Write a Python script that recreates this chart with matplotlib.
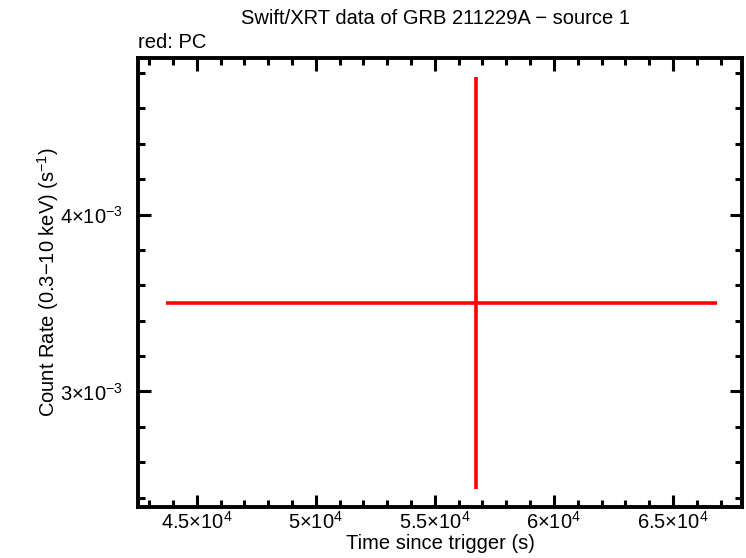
import numpy as np
import matplotlib
matplotlib.use("Agg")
import matplotlib.pyplot as plt
from matplotlib.ticker import FixedLocator, MultipleLocator

plt.rcParams['font.family'] = ['Liberation Sans', 'DejaVu Sans']
plt.rcParams['mathtext.fontset'] = 'custom'
plt.rcParams['mathtext.rm'] = 'Liberation Sans'
plt.rcParams['mathtext.it'] = 'Liberation Sans'
plt.rcParams['mathtext.default'] = 'regular'

# PC data point (time in s, count rate in 1/s)
t_mid = [56730.0]
t_lo = [43700.0]
t_hi = [66860.0]
rate = [3.5e-3]
rate_lo = [2.449e-3]
rate_hi = [4.778e-3]

x_ticks = [45000, 50000, 55000, 60000, 65000]
x_labels = [r'$4.5{\times}10^{4}$', r'$5{\times}10^{4}$', r'$5.5{\times}10^{4}$',
            r'$6{\times}10^{4}$', r'$6.5{\times}10^{4}$']
y_ticks = [3e-3, 4e-3]
y_labels = [r'$3{\times}10^{-3}$', r'$4{\times}10^{-3}$']

fig = plt.figure(figsize=(7.46, 5.58), dpi=100)
ax = fig.add_axes([138/746, 1 - 507/558, (742-138)/746, (507-58)/558])

xerr = [np.array(t_mid) - np.array(t_lo), np.array(t_hi) - np.array(t_mid)]
yerr = [np.array(rate) - np.array(rate_lo), np.array(rate_hi) - np.array(rate)]
ax.errorbar(t_mid, rate, xerr=xerr, yerr=yerr, fmt='none', ecolor='#ff0000',
            elinewidth=2.6, capsize=0)

ax.set_xlim(42530, 67900)
ax.set_ylim(2.347e-3, 4.885e-3)

ax.xaxis.set_major_locator(FixedLocator(x_ticks))
ax.set_xticklabels(x_labels)
ax.xaxis.set_minor_locator(MultipleLocator(1000))
ax.yaxis.set_major_locator(FixedLocator(y_ticks))
ax.set_yticklabels(y_labels)
ax.yaxis.set_minor_locator(MultipleLocator(0.2e-3))

for s in ax.spines.values():
    s.set_linewidth(2.8)
ax.tick_params(which='both', direction='in', top=True, right=True, width=2.2,
               labelsize=14.5)
ax.tick_params(axis='x', which='major', pad=3)
ax.tick_params(axis='y', which='major', pad=11)
ax.tick_params(which='major', length=9)
ax.tick_params(which='minor', length=5)

ax.set_xlabel('Time since trigger (s)', fontsize=14.5, labelpad=1)
ax.set_ylabel('Count Rate (0.3\u221210 keV) (s$^{-1}$)', fontsize=14.5)
ax.yaxis.set_label_coords((61 - 138) / 604, 0.5)
fig.text(436/746, 1 - 19/558, 'Swift/XRT data of GRB 211229A \u2212 source 1',
         ha='center', va='center', fontsize=14.5)
fig.text(138/746, 1 - 42/558, 'red: PC', ha='left', va='center', fontsize=14.5)

fig.savefig('out.png', dpi=100)
